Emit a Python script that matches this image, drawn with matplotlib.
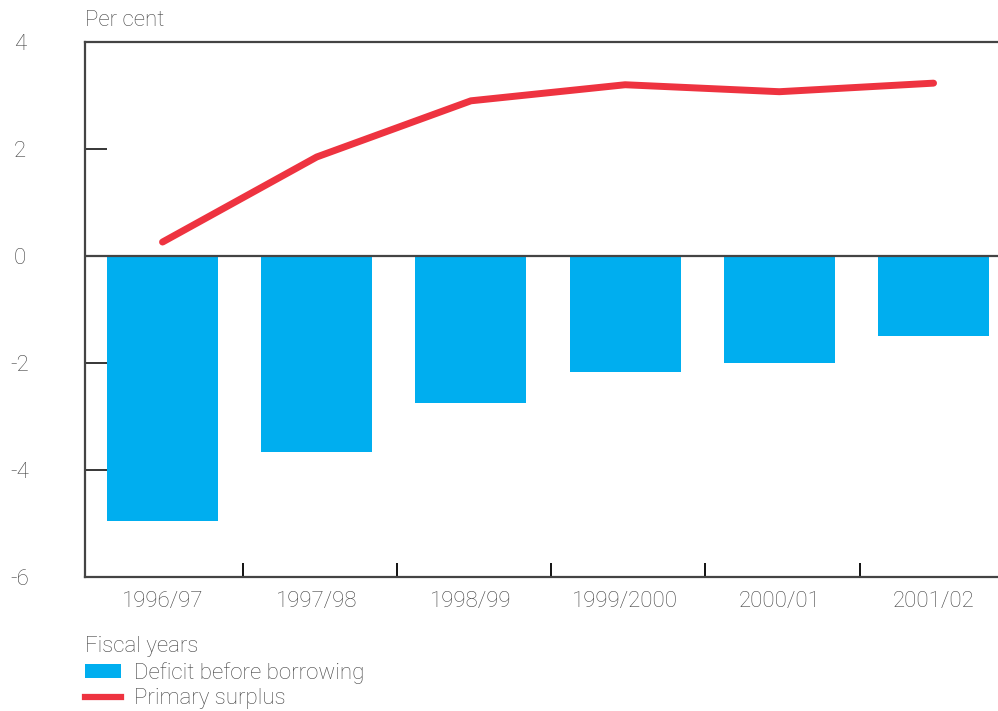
import numpy as np
import matplotlib
matplotlib.use("Agg")
import matplotlib.pyplot as plt
from matplotlib.patches import Patch
from matplotlib.lines import Line2D

years = ["1996/97", "1997/98", "1998/99", "1999/2000", "2000/01", "2001/02"]
deficit = [-4.95, -3.66, -2.75, -2.17, -2.0, -1.5]
primary_surplus = [0.26, 1.85, 2.9, 3.2, 3.07, 3.23]
y_ticks = [-6, -4, -2, 0, 2, 4]

bar_color = "#00aeef"
line_color = "#ee3340"
text_color = "#444444"
spine_color = "#444444"

plt.rcParams["font.family"] = ["Roboto", "DejaVu Sans"]
plt.rcParams["font.weight"] = "light"
fs = 16

fig = plt.figure(figsize=(9.98, 7.11), dpi=100)
ax = fig.add_axes([0.0852, 0.1885, 0.9148, 0.7525])

x = np.arange(len(years))

ax.bar(x, deficit, width=0.72, color=bar_color, zorder=2)
ax.axhline(0, color=spine_color, linewidth=1.6, zorder=3)
ax.plot(x, primary_surplus, color=line_color, linewidth=5,
        solid_capstyle="round", solid_joinstyle="round", zorder=4)

ax.set_xlim(-0.5026, 5.418)
ax.set_ylim(-6, 4)

for side in ["left", "bottom", "top"]:
    ax.spines[side].set_color(spine_color)
    ax.spines[side].set_linewidth(1.6)
ax.spines["right"].set_visible(False)

ax.set_yticks(y_ticks)
ax.set_yticklabels([str(v) for v in y_ticks])
ax.tick_params(axis="y", direction="in", length=16, width=1.1, color="black",
               pad=47, labelsize=fs, labelcolor=text_color)
for lab in ax.get_yticklabels():
    lab.set_horizontalalignment("center")

ax.set_xticks(x)
ax.set_xticklabels(years)
ax.tick_params(axis="x", which="major", length=0, pad=10,
               labelsize=fs, labelcolor=text_color)
ax.set_xticks(np.arange(len(years) - 1) + 0.52, minor=True)
ax.tick_params(axis="x", which="minor", direction="in", length=10,
               width=1.3, color="black")

fig.text(0.0852, 0.971, "Per cent", fontsize=fs, color=text_color,
         ha="left", va="center")

handles = [Patch(facecolor=bar_color, edgecolor="none"),
           Line2D([0], [0], color=line_color, linewidth=4.5)]
leg = fig.legend(handles, ["Deficit before borrowing", "Primary surplus"],
                 title="Fiscal years", loc="upper left",
                 bbox_to_anchor=(0.0852, 0.105), frameon=False,
                 fontsize=fs, title_fontsize=fs, alignment="left",
                 handlelength=1.6, handleheight=0.6, handletextpad=0.6,
                 labelspacing=0.2, borderpad=0, borderaxespad=0)
for t in leg.get_texts():
    t.set_color(text_color)
leg.get_title().set_color(text_color)

fig.savefig("out.png", dpi=100)
